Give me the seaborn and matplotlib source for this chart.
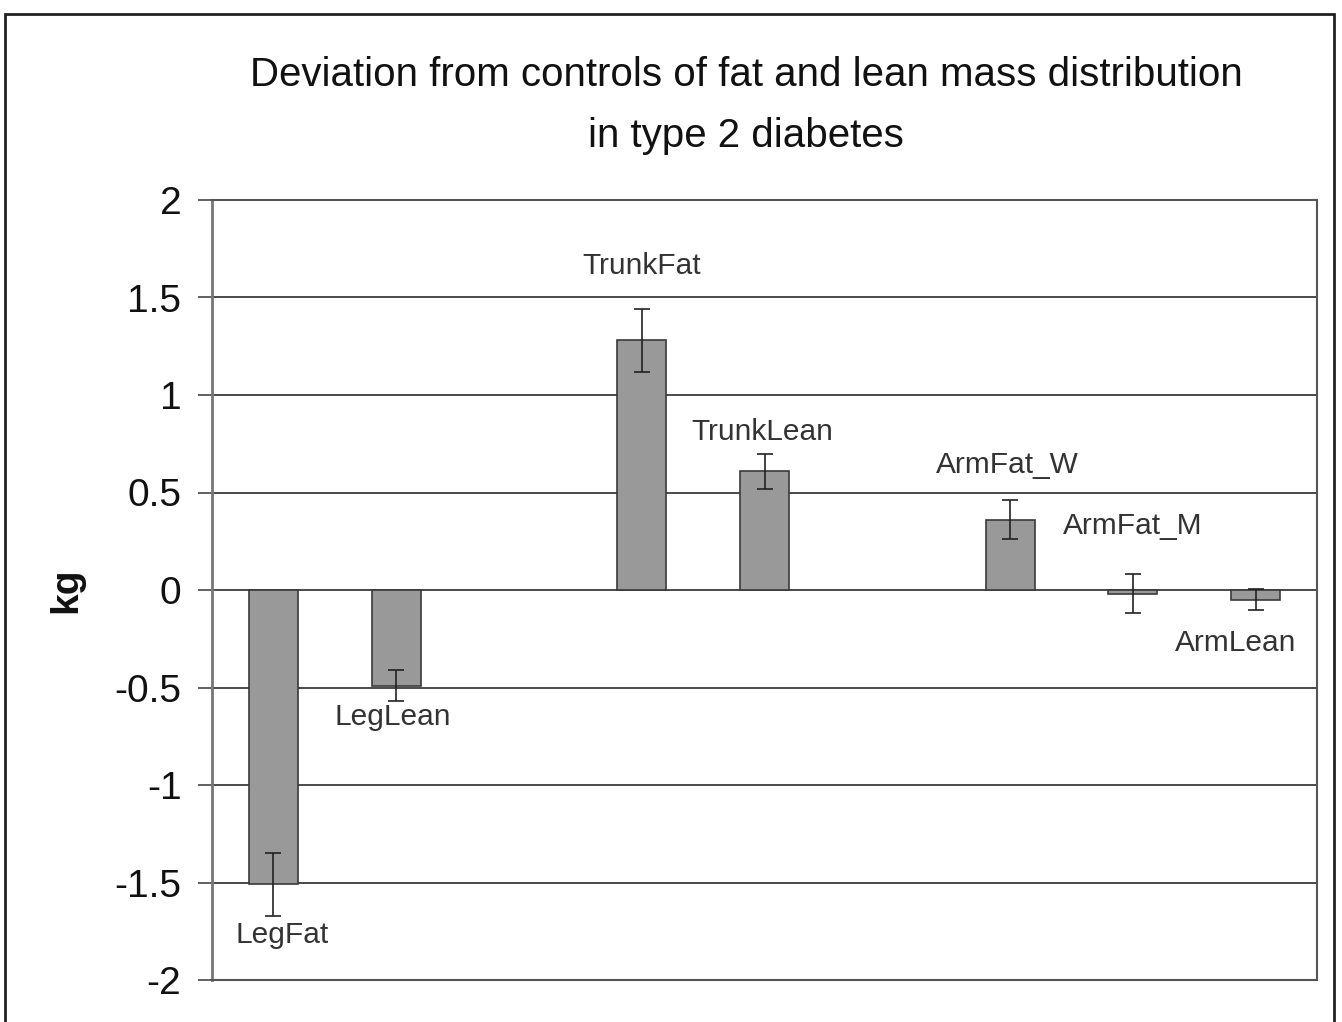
import pandas as pd
import matplotlib
matplotlib.use("Agg")
import matplotlib.pyplot as plt
import seaborn as sns
from matplotlib.patches import Rectangle

# values (kg, deviation from controls)
slots = ["LegFat", "LegLean", "_gap1", "TrunkFat", "TrunkLean", "_gap2",
         "ArmFat_W", "ArmFat_M", "ArmLean"]
regions = ["LegFat", "LegLean", "TrunkFat", "TrunkLean", "ArmFat_W", "ArmFat_M", "ArmLean"]
deviation = [-1.51, -0.49, 1.28, 0.61, 0.36, -0.02, -0.05]
sem = [0.16, 0.08, 0.16, 0.09, 0.10, 0.10, 0.055]
yticks = [-2, -1.5, -1, -0.5, 0, 0.5, 1, 1.5, 2]

# where each bar's label sits (x shift in slots, y in kg)
label_dx = [0.07, -0.03, 0.0, -0.02, -0.02, 0.0, -0.16]
label_y = [-1.77, -0.65, 1.66, 0.81, 0.64, 0.33, -0.27]

sns.set_theme(style="white")
plt.rcParams['font.family'] = ['Liberation Sans', 'DejaVu Sans']

df = pd.DataFrame({'region': regions, 'kg': deviation})

fig = plt.figure(figsize=(13.42, 10.22), dpi=100)
ax = fig.add_axes([212 / 1342, 42 / 1022, 1105 / 1342, 780 / 1022])

sns.barplot(data=df, x='region', y='kg', order=slots, errorbar=None,
            color='#999999', edgecolor='#3a3a3a', linewidth=1.2,
            width=0.4, saturation=1, ax=ax)

xpos = [slots.index(r) for r in regions]
ax.errorbar(xpos, deviation, yerr=sem, fmt='none', ecolor='#222222',
            elinewidth=1.2, capsize=6, capthick=1.2, zorder=5)

for r, x, dx, y in zip(regions, xpos, label_dx, label_y):
    ax.text(x + dx, y, r, ha='center', va='center', fontsize=21.5, color='#333333')

ax.set_ylim(-2, 2)
ax.set_xlim(-0.5, len(slots) - 0.5)
ax.set_yticks(yticks)
ax.set_yticklabels([f'{t:g}' for t in yticks], fontsize=28, color='#111111')
ax.set_xticks([])
ax.set_xlabel('')
ax.set_ylabel('kg', fontsize=28, fontweight='bold', labelpad=22, color='#111111')
ax.tick_params(axis='y', length=10, width=1.3, color='#555555', left=True, pad=12)

ax.yaxis.grid(True, color='#3c3c3c', linewidth=1.3)
ax.set_axisbelow(True)
for side, sp in ax.spines.items():
    sp.set_visible(True)
    sp.set_color('#555555')
    sp.set_linewidth(1.5)
ax.spines['left'].set_color('#777777')
ax.spines['left'].set_linewidth(2)

fig.text(746 / 1342, 1 - 105.5 / 1022,
         "Deviation from controls of fat and lean mass distribution\nin type 2 diabetes",
         ha='center', va='center', fontsize=29, linespacing=1.78, color='#111111')

# outer border around the whole chart
fig.patches.append(Rectangle((5 / 1342, -0.01), 1329 / 1342, 1.003 - 7 / 1022,
                             transform=fig.transFigure, fill=False,
                             edgecolor='#222222', linewidth=2))

fig.savefig('out.png', dpi=100)
